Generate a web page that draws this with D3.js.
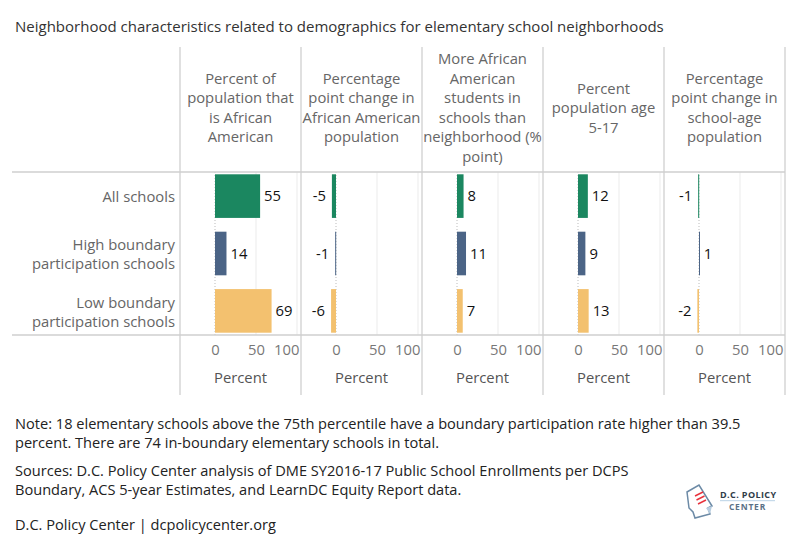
<!DOCTYPE html>
<html>
<head>
<meta charset="utf-8">
<script src="https://cdn.jsdelivr.net/npm/d3@7"></script>
<style>
  body { margin: 0; background: #fff; }
  svg text { font-family: "Open Sans", Lato, sans-serif; }
</style>
</head>
<body>
<div id="chart"></div>
<script>
// chart data
const categories = [
    ["All schools"],
    ["High boundary", "participation schools"],
    ["Low boundary", "participation schools"]
];
const measures = [
    ["Percent of", "population that", "is African", "American"],
    ["Percentage", "point change in", "African American", "population"],
    ["More African", "American", "students in", "schools than", "neighborhood (%", "point)"],
    ["Percent", "population age", "5-17"],
    ["Percentage", "point change in", "school-age", "population"]
];
const pctAfricanAmerican = [55, 14, 69];
const changeAfricanAmerican = [-5, -1, -6];
const moreAfricanAmericanStudents = [8, 11, 7];
const pctAge5to17 = [12, 9, 13];
const changeSchoolAge = [-1, 1, -2];
const seriesValues = [pctAfricanAmerican, changeAfricanAmerican, moreAfricanAmericanStudents, pctAge5to17, changeSchoolAge];
const colors = ["#1b8760", "#4b6486", "#f3c16f"];
const tickValues = [0, 50, 100];
const axisTitle = "Percent";

const width = 800, height = 550;
const fs = "14.8px";
const svg = d3.select("#chart").append("svg")
    .attr("width", width)
    .attr("height", height);

// title
svg.append("text")
    .attr("x", 15).attr("y", 32)
    .attr("fill", "#333")
    .style("font-size", "15px")
    .text("Neighborhood characteristics related to demographics for elementary school neighborhoods");

const left = 180, panelW = 121;
const headerTop = 47, rowsTop = 172, rowsBottom = 335, gridBottom = 395;

const y = d3.scaleBand()
    .domain(d3.range(categories.length))
    .range([rowsTop, rowsBottom])
    .paddingInner(0.24)
    .paddingOuter(0.04);

// row labels
categories.forEach((lines, i) => {
    const cy = y(i) + y.bandwidth() / 2 + 1;
    lines.forEach((ln, j) => {
        svg.append("text")
            .attr("x", 175)
            .attr("y", cy + (j - (lines.length - 1) / 2) * 19)
            .attr("dy", "0.35em")
            .attr("text-anchor", "end")
            .attr("fill", "#666")
            .style("font-size", fs)
            .text(ln);
    });
});

measures.forEach((header, p) => {
    const x0 = left + p * panelW;
    const x = d3.scaleLinear().domain([0, 100]).range([x0 + 35, x0 + 117]);
    const g = svg.append("g");

    // header text
    header.forEach((ln, j) => {
        g.append("text")
            .attr("x", x0 + panelW / 2)
            .attr("y", 108 + (j - (header.length - 1) / 2) * 19.5)
            .attr("dy", "0.35em")
            .attr("text-anchor", "middle")
            .attr("fill", "#666")
            .style("font-size", fs)
            .text(ln);
    });

    // grid lines
    g.selectAll(".grid").data(tickValues.slice(1)).enter().append("line")
        .attr("x1", d => x(d)).attr("x2", d => x(d))
        .attr("y1", rowsTop).attr("y2", rowsBottom)
        .attr("stroke", "#ebebeb");
    g.append("line")
        .attr("x1", x(0)).attr("x2", x(0))
        .attr("y1", rowsTop).attr("y2", rowsBottom)
        .attr("stroke", "#bbb")
        .attr("stroke-dasharray", "1,2");

    // bars
    const vals = seriesValues[p];
    g.selectAll(".bar").data(vals).enter().append("rect")
        .attr("x", d => x(Math.min(0, d)))
        .attr("y", (d, i) => y(i))
        .attr("width", d => Math.max(1, Math.abs(x(d) - x(0))))
        .attr("height", y.bandwidth())
        .attr("fill", (d, i) => colors[i]);

    // value labels
    g.selectAll(".lbl").data(vals).enter().append("text")
        .attr("x", d => d >= 0 ? x(d) + 4 : x(d) - 6)
        .attr("y", (d, i) => y(i) + y.bandwidth() / 2)
        .attr("dy", "0.35em")
        .attr("text-anchor", d => d >= 0 ? "start" : "end")
        .attr("fill", "#111")
        .style("font-size", fs)
        .text(d => d);

    // axis
    const axis = d3.axisBottom(x).tickValues(tickValues).tickSize(0).tickPadding(0);
    const ag = g.append("g")
        .attr("transform", `translate(0,${rowsBottom + 9})`)
        .call(axis);
    ag.select(".domain").remove();
    ag.selectAll("text")
        .attr("fill", "#777")
        .attr("dy", "0.71em")
        .style("font-size", fs)
        .style("font-family", "'Open Sans', sans-serif");
    // last label pulled inside the panel edge
    ag.selectAll(".tick").filter(d => d === 100).select("text")
        .attr("text-anchor", "end")
        .attr("x", 2);

    g.append("text")
        .attr("x", x0 + panelW / 2)
        .attr("y", 383)
        .attr("text-anchor", "middle")
        .attr("fill", "#555")
        .style("font-size", fs)
        .text(axisTitle);
});

// borders
const borders = svg.append("g").attr("stroke", "#cfcfcf").attr("stroke-width", 1.3);
d3.range(measures.length + 1).forEach(p => {
    borders.append("line")
        .attr("x1", left + p * panelW).attr("x2", left + p * panelW)
        .attr("y1", headerTop).attr("y2", gridBottom);
});
[rowsTop, rowsBottom].forEach(yy => {
    borders.append("line")
        .attr("x1", 12).attr("x2", left + measures.length * panelW)
        .attr("y1", yy).attr("y2", yy);
});

// footer
const foot = [
    [429, "Note: 18 elementary schools above the 75th percentile have a boundary participation rate higher than 39.5"],
    [448, "percent. There are 74 in-boundary elementary schools in total."],
    [476, "Sources: D.C. Policy Center analysis of DME SY2016-17 Public School Enrollments per DCPS"],
    [495, "Boundary, ACS 5-year Estimates, and LearnDC Equity Report data."],
    [530, "D.C. Policy Center | dcpolicycenter.org"]
];
foot.forEach(f => {
    svg.append("text")
        .attr("x", 15).attr("y", f[0])
        .attr("fill", "#222")
        .style("font-size", "14.6px")
        .text(f[1]);
});

// logo
const logo = svg.append("g").attr("transform", "translate(685,484)");
logo.append("path")
    .attr("d", "M2,8 L14,1 L27,22 L23,24 L25,30 L10,34 L8,28 L4,24 Z")
    .attr("fill", "none").attr("stroke", "#6c8aa6").attr("stroke-width", 1.5);
logo.append("path")
    .attr("d", "M21,24 L27,22 L25,30 Z").attr("fill", "#b7cde0");
[0, 1, 2].forEach(k => {
    logo.append("line")
        .attr("x1", 10 + k * 1.5).attr("y1", 12 + k * 4)
        .attr("x2", 18 + k * 1.5).attr("y2", 8 + k * 4)
        .attr("stroke", "#e8323c").attr("stroke-width", 1.4);
});
logo.append("text").attr("x", 35).attr("y", 13.5)
    .attr("fill", "#2f3b48").style("font-size", "9px").style("font-weight", "bold")
    .style("letter-spacing", "0.4px").text("D.C. POLICY");
logo.append("line").attr("x1", 35).attr("x2", 90).attr("y1", 16.7).attr("y2", 16.7)
    .attr("stroke", "#b9d2e6");
logo.append("text").attr("x", 62.5).attr("y", 25.5).attr("text-anchor", "middle")
    .attr("fill", "#5a7186").style("font-size", "8.5px").style("font-weight", "bold")
    .style("letter-spacing", "0.8px").text("CENTER");
</script>
</body>
</html>
